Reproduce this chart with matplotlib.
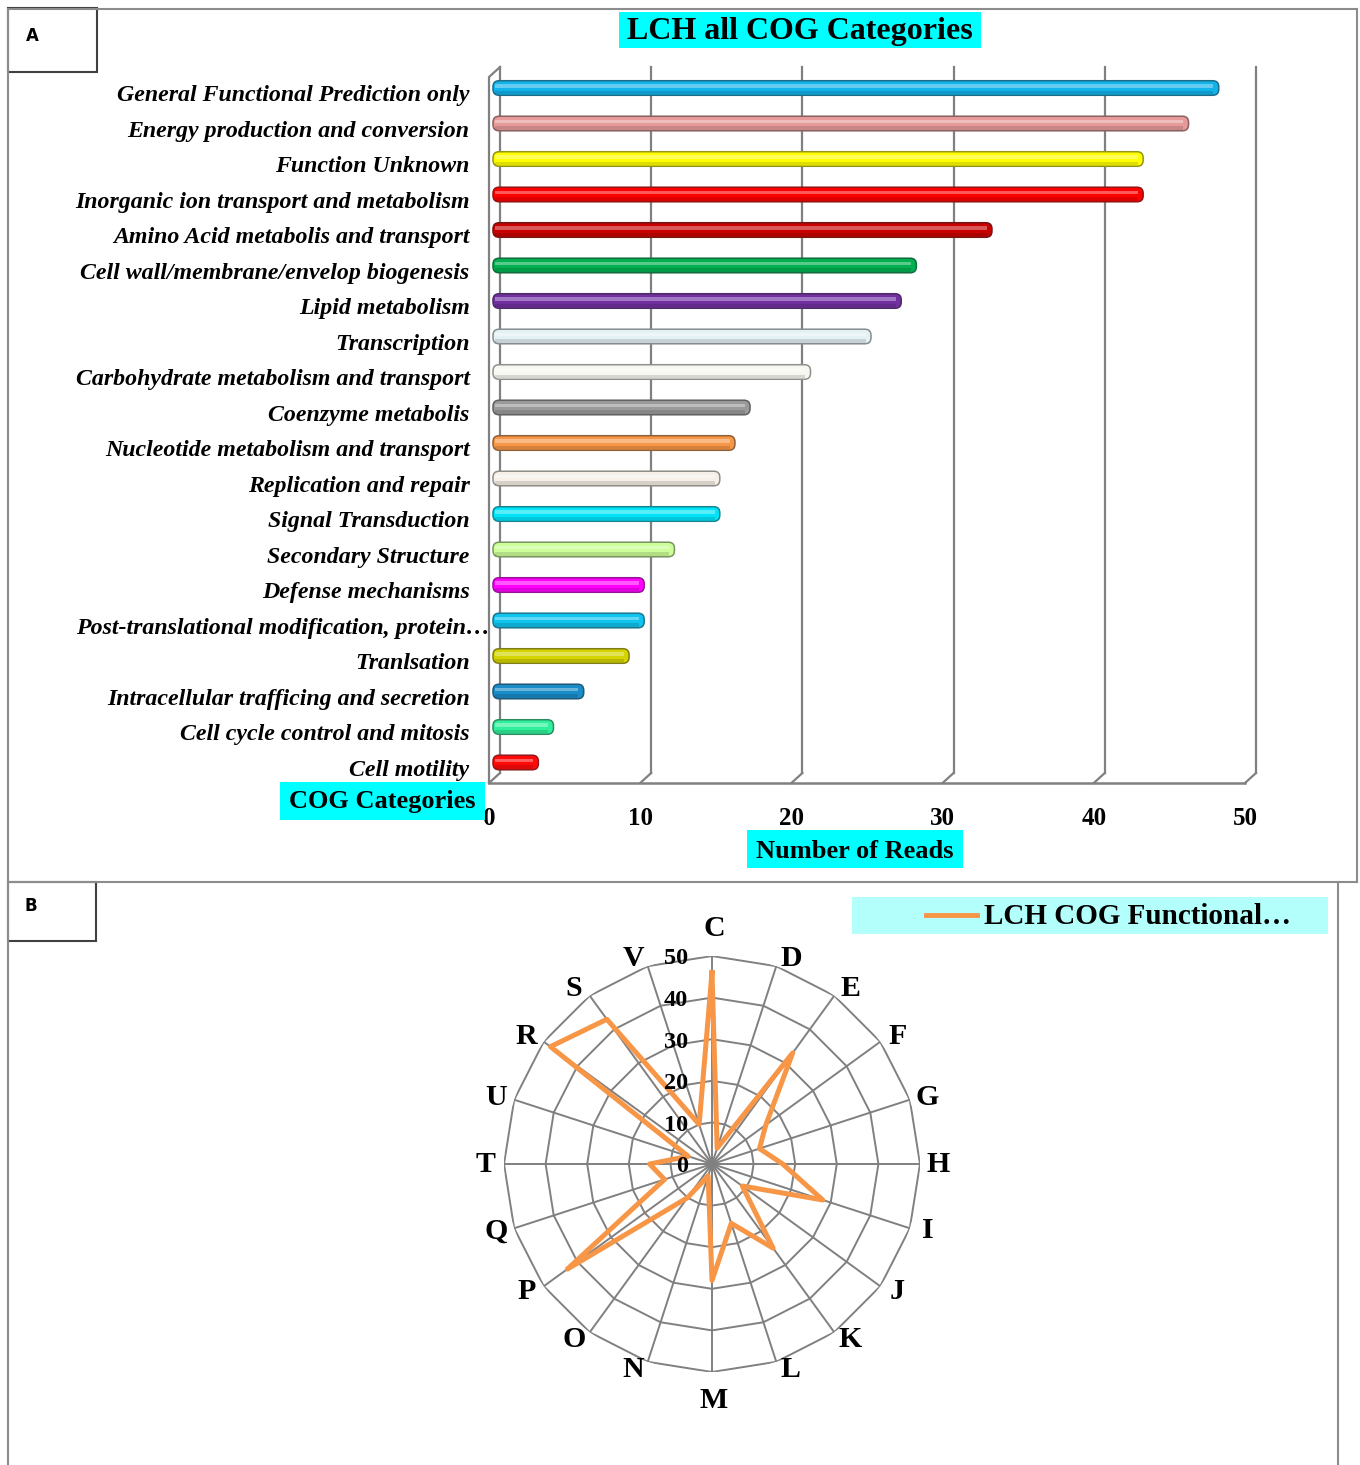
import matplotlib
matplotlib.use("Agg")
import matplotlib.pyplot as plt
import numpy as np
from matplotlib.lines import Line2D
from matplotlib.patches import Rectangle, FancyBboxPatch
from matplotlib.transforms import offset_copy, blended_transform_factory

# COG category counts (panel A)
categories = [
    "General Functional Prediction only",
    "Energy production and conversion",
    "Function Unknown",
    "Inorganic ion transport and metabolism",
    "Amino Acid metabolis and transport",
    "Cell wall/membrane/envelop biogenesis",
    "Lipid metabolism",
    "Transcription",
    "Carbohydrate metabolism and transport",
    "Coenzyme metabolis",
    "Nucleotide metabolism and transport",
    "Replication and repair",
    "Signal Transduction",
    "Secondary Structure",
    "Defense mechanisms",
    "Post-translational modification, protein\u2026",
    "Tranlsation",
    "Intracellular trafficing and secretion",
    "Cell cycle control and mitosis",
    "Cell motility",
]
reads = [48, 46, 43, 43, 33, 28, 27, 25, 21, 17, 16, 15, 15, 12, 10, 10, 9, 6, 4, 3]
bar_colors = [
    "#12B2EA", "#E89A9A", "#FFFF00", "#FF0000", "#C80000", "#00B050",
    "#7030A0", "#E4F2F6", "#F7F7F2", "#9A9A9A", "#F79646", "#F7F0E8",
    "#00E4FA", "#CCFF99", "#FF00FF", "#10C4F0", "#D4D400", "#1A8CC8",
    "#2EF09A", "#FF0A0A",
]
x_ticks = [0, 10, 20, 30, 40, 50]

# radar values by COG letter (panel B)
cog_letters = ["C", "D", "E", "F", "G", "H", "I", "J", "K", "L",
               "M", "N", "O", "P", "Q", "T", "U", "R", "S", "V"]
cog_values = [46, 4, 33, 16, 12, 17, 28, 9, 25, 15,
              28, 3, 10, 43, 12, 15, 6, 48, 43, 10]
ring_levels = [0, 10, 20, 30, 40, 50]

W, H = 1360, 1465
fx = lambda x: x / W
fy = lambda y: 1 - y / H
SERIF = "Liberation Serif"
GRID = "#808080"

fig = plt.figure(figsize=(W / 100, H / 100), dpi=100)

def fig_line(xs, ys, color="#8c8c8c", lw=1.5):
    fig.add_artist(Line2D([fx(v) for v in xs], [fy(v) for v in ys],
                          transform=fig.transFigure, color=color, lw=lw))

def fig_box(x0, y0, x1, y1, face, edge="none", lw=0):
    fig.add_artist(Rectangle((fx(x0), fy(y1)), fx(x1) - fx(x0), fy(y0) - fy(y1),
                             transform=fig.transFigure, facecolor=face,
                             edgecolor=edge, lw=lw))

# panel frames
fig_line([8, 1357], [9, 9])
fig_line([8, 8], [9, 1465])
fig_line([1357, 1357], [9, 882])
fig_line([8, 1357], [882, 882])
fig_line([1338, 1338], [882, 1465])

fig_box(8, 8, 97, 72, "white", "#404040", 1.5)
fig.text(fx(32), fy(36), "A", fontsize=12, fontweight="bold", ha="center", va="center")
fig_box(8, 882, 96, 941, "white", "#404040", 1.5)
fig.text(fx(31), fy(906), "B", fontsize=12, fontweight="bold", ha="center", va="center")

# ---------- panel A: horizontal bars ----------
ax = fig.add_axes([fx(489), fy(783), fx(1245) - fx(489), (783 - 67) / H])
n = len(categories)
ypos = np.arange(n)
ax.set_xlim(0, 50)
ax.set_ylim(n - 1 + (783 - 88 - 35.5 * (n - 1)) / 35.5, -21 / 35.5)

depth_dx = 11 / 15.12
depth_dy = 10 / 716
back = offset_copy(blended_transform_factory(ax.transData, ax.transAxes),
                   fig=fig, x=11, y=10, units="dots")
front = blended_transform_factory(ax.transData, ax.transAxes)
for t in x_ticks:
    ax.plot([t, t], [0, 0.986], transform=back, color=GRID, lw=1.6, clip_on=False, zorder=1)
    ax.plot([t, t + depth_dx], [0, depth_dy], transform=front, color=GRID, lw=1.6,
            clip_on=False, zorder=1)
ax.plot([0, 0, depth_dx], [0, 0.986, 0.986 + depth_dy], transform=front, color=GRID,
        lw=1.6, clip_on=False, zorder=1)

# cylinders: rounded bars with a light upper band and a darker lower band
bar_tr = offset_copy(ax.transData, fig=fig, x=4, y=0, units="dots")
bh = 0.41
aspect = 15.12 / 35.5
for i, (v, c) in enumerate(zip(reads, bar_colors)):
    rgb = np.array(matplotlib.colors.to_rgb(c))
    body = FancyBboxPatch((0, i - bh / 2), v, bh,
                          boxstyle="round,pad=0,rounding_size=0.4",
                          mutation_aspect=aspect, facecolor=c,
                          edgecolor=tuple(rgb * 0.5 + 0.08), lw=1.1,
                          transform=bar_tr, zorder=3)
    ax.add_patch(body)
    ax.add_patch(Rectangle((0.15, i - 0.11), v - 0.5, 0.1, facecolor="white",
                           alpha=0.35, lw=0, transform=bar_tr, zorder=4))
    ax.add_patch(Rectangle((0.15, i + 0.08), v - 0.5, 0.1, facecolor="black",
                           alpha=0.13, lw=0, transform=bar_tr, zorder=4))

for s in ["top", "right", "left"]:
    ax.spines[s].set_visible(False)
ax.spines["bottom"].set_color(GRID)
ax.spines["bottom"].set_linewidth(1.8)
ax.set_facecolor("none")

ax.set_xticks(x_ticks)
ax.set_xticklabels([str(t) for t in x_ticks], fontsize=18, fontweight="bold", family=SERIF)
ax.tick_params(axis="x", length=0, pad=17)
ax.set_yticks(ypos + 0.15)
ax.set_yticklabels(categories, fontsize=17.2, fontweight="bold", style="italic", family=SERIF)
ax.tick_params(axis="y", length=0, pad=14)
ax.get_yticklabels()[15].set_x(0.027)

fig_box(619, 12, 981, 48, "#00FFFF")
fig.text(fx(800), fy(32), "LCH all COG Categories", fontsize=23, fontweight="bold",
         family=SERIF, ha="center", va="center")
fig_box(280, 782, 485, 820, "#00FFFF")
fig.text(fx(382), fy(802), "COG Categories", fontsize=19, fontweight="bold",
         family=SERIF, ha="center", va="center")
fig_box(747, 830, 963, 868, "#00FFFF")
fig.text(fx(855), fy(851), "Number of Reads", fontsize=19, fontweight="bold",
         family=SERIF, ha="center", va="center")

# ---------- panel B: radar ----------
R = 208
ax2 = fig.add_axes([fx(712 - R), fy(1164 + R), 2 * R / W, 2 * R / H], projection="polar")
ax2.set_theta_zero_location("N")
ax2.set_theta_direction(-1)
ax2.set_ylim(0, 50)
ax2.grid(False)
ax2.set_xticks([])
ax2.set_yticks([])
ax2.spines["polar"].set_visible(False)
ax2.patch.set_visible(False)

theta = np.linspace(0, 2 * np.pi, len(cog_letters), endpoint=False)
closed = np.append(theta, theta[0])
for r in ring_levels[1:]:
    ax2.plot(closed, [r] * len(closed), color=GRID, lw=1.4, zorder=1)
for t in theta:
    ax2.plot([t, t], [0, 50], color=GRID, lw=1.4, zorder=1)

radar_line, = ax2.plot(closed, np.append(cog_values, cog_values[0]), color="#F79646",
                       lw=3.6, zorder=3)

# category letters sit just past the spoke ends, pushed sideways
for t, c in zip(theta, cog_letters):
    s, co = np.sin(t), np.cos(t)
    if abs(s) < 1e-6:
        dx, dy = 2, 28 * np.sign(co)
    else:
        dx, dy = 13 * np.sign(s) + 5 * s, 8.5 * co
    tr = offset_copy(ax2.transData, fig=fig, x=dx, y=dy, units="dots")
    ax2.text(t, 50, c, transform=tr, fontsize=21.5, fontweight="bold", family=SERIF,
             ha="center", va="center")

rlab = offset_copy(ax2.transData, fig=fig, x=-24, y=-3, units="dots")
for r in ring_levels:
    ax2.text(0, r, str(r), transform=rlab, fontsize=17.5, fontweight="bold",
             family=SERIF, ha="right", va="center", zorder=4)

fig_box(852, 897, 1328, 934, "#B3FFFC")
fig_line([926, 977], [915, 915], color="#F79646", lw=3.5)
fig.text(fx(984), fy(916), "LCH COG Functional\u2026", fontsize=21, fontweight="bold",
         family=SERIF, ha="left", va="center")

fig.savefig("out.png", dpi=100)
